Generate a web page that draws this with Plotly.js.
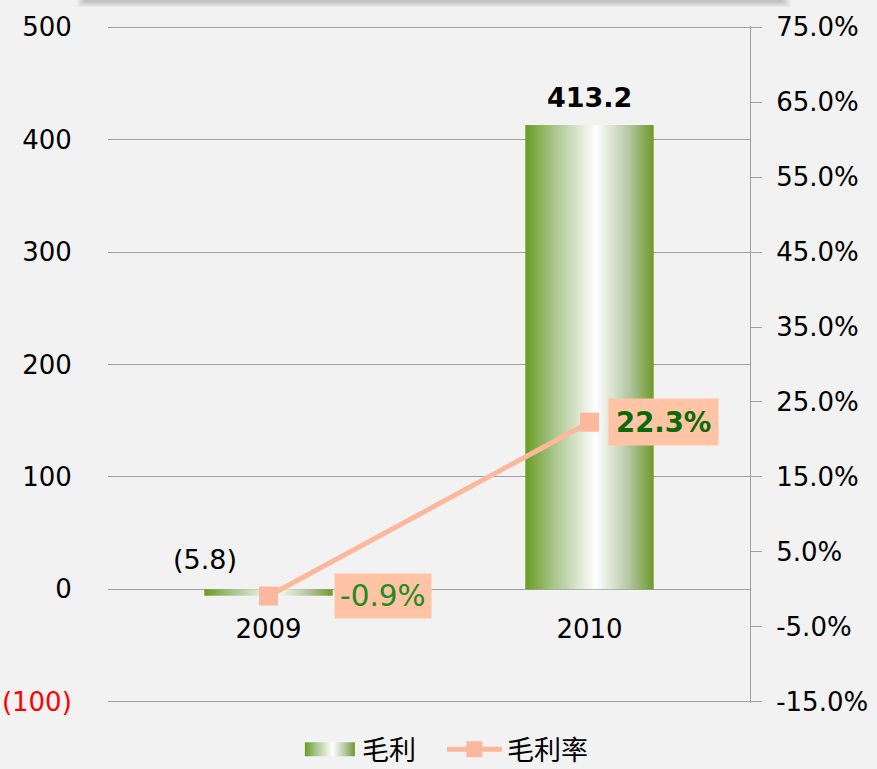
<!DOCTYPE html>
<html>
<head>
<meta charset="utf-8">
<script src="https://cdn.plot.ly/plotly-3.0.1.min.js"></script>
<style>
  html, body { margin: 0; padding: 0; background: #f2f2f2; }
  #chart { width: 877px; height: 769px; }
</style>
</head>
<body>
<div id="chart"></div>
<script>
// ---- data ----
const categories = ['2009', '2010'];
const grossProfit = [-5.8, 413.2];          // 毛利
const grossMargin = [-0.9, 22.3];           // 毛利率 (%)
const seriesNames = ['毛利', '毛利率'];
const leftTickVals = [-100, 0, 100, 200, 300, 400, 500];
const leftTickText = ['<span style="color:#ff0000">(100)</span>', '0', '100', '200', '300', '400', '500'];
const rightTickVals = [-15, -5, 5, 15, 25, 35, 45, 55, 65, 75];
const rightTickText = ['-15.0%', '-5.0%', '5.0%', '15.0%', '25.0%', '35.0%', '45.0%', '55.0%', '65.0%', '75.0%'];

// ---- styles ----
const FONT = '"DejaVu Sans", Verdana, sans-serif';
const CJK = '"Noto Sans CJK SC", "Noto Sans CJK TC", sans-serif';
const GRID = '#a0a0a0';
const GREEN = '#6a9a26';
const SALMON = '#fcb89c';
const LABEL_BG = '#ffc4a6';
const barLabelStyle = [{x: -64, y: 12, bold: false, size: 27}, {x: 0, y: 10, bold: true, size: 27}];
const rateLabelStyle = [
  {x: 65, bold: false, color: '#228b22', size: 29.5, pad: 5},
  {x: 18, bold: true, color: '#0a6a0a', size: 27.5, pad: 7}
];

const fmtBar = v => v < 0 ? '(' + Math.abs(v).toFixed(1) + ')' : v.toFixed(1);
const fmtRate = v => v.toFixed(1) + '%';

const traces = [
  {
    type: 'bar', name: seriesNames[0], x: categories, y: grossProfit,
    width: 0.4, marker: {color: GREEN, line: {width: 0}},
    xaxis: 'x', yaxis: 'y', hoverinfo: 'skip'
  },
  {
    type: 'scatter', mode: 'lines+markers', name: seriesNames[1],
    x: categories, y: grossMargin, xaxis: 'x', yaxis: 'y2',
    line: {color: SALMON, width: 5},
    marker: {symbol: 'square', size: 19, color: SALMON},
    hoverinfo: 'skip'
  }
];

const annotations = [];
grossProfit.forEach((v, i) => {
  const s = barLabelStyle[i];
  annotations.push({
    x: i, y: Math.max(v, 0), xref: 'x', yref: 'y',
    text: s.bold ? '<b>' + fmtBar(v) + '</b>' : fmtBar(v),
    showarrow: false, yanchor: 'bottom', xanchor: 'center',
    xshift: s.x, yshift: s.y,
    font: {family: FONT, size: s.size, color: '#000'}
  });
});
grossMargin.forEach((v, i) => {
  const s = rateLabelStyle[i];
  annotations.push({
    x: i, y: v, xref: 'x', yref: 'y2',
    text: s.bold ? '<b>' + fmtRate(v) + '</b>' : fmtRate(v),
    showarrow: false, xanchor: 'left', yanchor: 'middle',
    xshift: s.x, bgcolor: LABEL_BG, borderpad: s.pad,
    font: {family: FONT, size: s.size, color: s.color}
  });
});

// soft shadow of a box sitting above the chart
const shapes = [];
for (let k = 0; k < 6; k++) {
  shapes.push({
    type: 'rect', xref: 'paper', yref: 'paper', xsizemode: 'pixel', ysizemode: 'pixel',
    xanchor: 0, yanchor: 1,
    x0: -31 + k * 1.5, x1: 682 - k * 1.5, y0: 19 + k, y1: 40,
    fillcolor: 'rgba(80,80,80,0.05)', line: {width: 0}, layer: 'above'
  });
}

const yMin = leftTickVals[0], yMax = leftTickVals[leftTickVals.length - 1];
const pad = 1.2; // keeps the edge gridlines visible
const yLo = yMin - pad, yHi = yMax + pad;
const rMin = rightTickVals[0], rMax = rightTickVals[rightTickVals.length - 1];
const rScale = (rMax - rMin) / (yMax - yMin);

const layout = {
  width: 877, height: 769,
  paper_bgcolor: '#f2f2f2', plot_bgcolor: '#f2f2f2',
  margin: {l: 108, r: 127, t: 26, b: 66, autoexpand: false},
  font: {family: FONT, size: 26, color: '#000'},
  showlegend: true,
  legend: {
    orientation: 'h', x: 0.302, xanchor: 'left', y: -0.069, yanchor: 'middle',
    font: {family: CJK, size: 27, color: '#000'}, bgcolor: 'rgba(0,0,0,0)',
    entrywidth: 80, entrywidthmode: 'pixels', itemwidth: 50
  },
  xaxis: {
    type: 'category', range: [-0.5, 1.5], anchor: 'free',
    position: (0 - yLo) / (yHi - yLo),
    showline: false, showgrid: false, zeroline: false, ticks: '',
    ticklabelstandoff: 22,
    tickfont: {family: FONT, size: 26, color: '#000'}
  },
  yaxis: {
    range: [yLo, yHi], tickvals: leftTickVals, ticktext: leftTickText,
    showgrid: true, gridcolor: GRID, gridwidth: 1, zeroline: false, showline: false,
    ticks: 'outside', ticklen: 30, tickcolor: 'rgba(0,0,0,0)',
    tickfont: {family: FONT, size: 26, color: '#000'}
  },
  yaxis2: {
    overlaying: 'y', side: 'right',
    range: [rMin - pad * rScale, rMax + pad * rScale],
    tickvals: rightTickVals, ticktext: rightTickText,
    showgrid: false, zeroline: false, showline: true, linecolor: GRID, linewidth: 1,
    ticks: 'outside', ticklen: 11, tickcolor: GRID, tickwidth: 1,
    ticklabelstandoff: 9,
    tickfont: {family: FONT, size: 26, color: '#000'}
  },
  annotations: annotations,
  shapes: shapes
};

function ensureGradient(gd) {
  if (document.getElementById('barGrad')) return;
  const ns = 'http://www.w3.org/2000/svg';
  const svg = gd.querySelector('svg.main-svg');
  let defs = svg.querySelector('defs');
  if (!defs) { defs = document.createElementNS(ns, 'defs'); svg.insertBefore(defs, svg.firstChild); }
  const grad = document.createElementNS(ns, 'linearGradient');
  grad.setAttribute('id', 'barGrad');
  grad.setAttribute('x1', '0'); grad.setAttribute('x2', '1');
  grad.setAttribute('y1', '0'); grad.setAttribute('y2', '0');
  [[0, '#6a9d22'], [0.22, '#a8c48a'], [0.55, '#ffffff'], [0.8, '#b6c8a4'], [1, '#6d9a2c']].forEach(([o, c]) => {
    const st = document.createElementNS(ns, 'stop');
    st.setAttribute('offset', o); st.setAttribute('stop-color', c);
    grad.appendChild(st);
  });
  defs.appendChild(grad);
}

function applyStyles(gd) {
  try {
    ensureGradient(gd);
    gd.querySelectorAll('.barlayer .point path').forEach(p => { p.style.fill = 'url(#barGrad)'; });
    gd.querySelectorAll('g.traces').forEach(tr => {
      const text = tr.querySelector('text.legendtext');
      if (!text) return;
      const tx = text.getBBox().x;
      const line = tr.querySelector('path.js-line');
      if (line) {
        const x1 = tx - 5, x0 = x1 - 55;
        line.removeAttribute('transform');
        line.setAttribute('d', 'M' + x0 + ',0H' + x1);
        const mk = tr.querySelector('path.scatterpts');
        if (mk) mk.setAttribute('transform', 'translate(' + ((x0 + x1) / 2) + ',0)');
      } else {
        const bar = tr.querySelector('g.legendpoints path') || tr.querySelector('path.legendbar');
        if (bar) {
          bar.removeAttribute('transform');
          bar.setAttribute('transform', 'translate(0,0)');
          bar.setAttribute('d', 'M' + (tx - 57) + ',-7h50v14h-50z');
          bar.style.fill = 'url(#barGrad)';
          bar.style.stroke = 'none';
          bar.style.strokeWidth = '0';
        }
      }
    });
  } catch (e) { console.log(e); }
}

Plotly.newPlot('chart', traces, layout, {staticPlot: true, displayModeBar: false}).then(gd => {
  applyStyles(gd);
  if (gd.on) gd.on('plotly_afterplot', () => applyStyles(gd));
  setTimeout(() => applyStyles(gd), 50);
  setTimeout(() => applyStyles(gd), 300);
});
</script>
</body>
</html>
